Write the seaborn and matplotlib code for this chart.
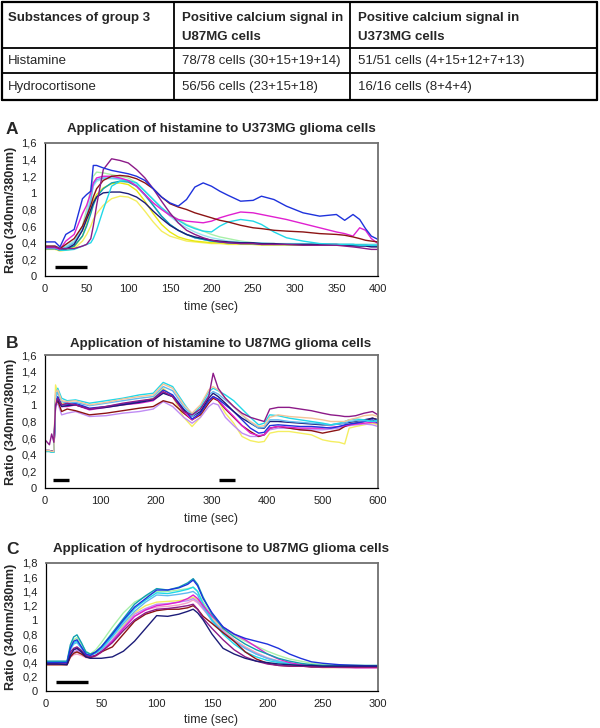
import matplotlib
matplotlib.use("Agg")
import matplotlib.pyplot as plt
import numpy as np
import pandas as pd
import seaborn as sns
from matplotlib.ticker import FuncFormatter

# Table content
TABLE_HEADER = [["Substances of group 3", ""],
                ["Positive calcium signal in", "U87MG cells"],
                ["Positive calcium signal in", "U373MG cells"]]
TABLE_ROWS = [["Histamine", "78/78 cells (30+15+19+14)", "51/51 cells (4+15+12+7+13)"],
              ["Hydrocortisone", "56/56 cells (23+15+18)", "16/16 cells (8+4+4)"]]

# Panel A: histamine on U373MG (time in sec, ratio 340/380)
A_TIME = [0, 12, 18, 25, 35, 45, 50, 55, 58, 62,
          70, 80, 90, 100, 110, 120, 130, 140, 150, 160,
          170, 180, 190, 200, 210, 220, 235, 250, 260, 275,
          290, 310, 330, 350, 360, 370, 378, 385, 392, 400]
A_YELLOW = [0.32, 0.32, 0.30, 0.31, 0.33, 0.42, 0.50, 0.60, 0.68, 0.75,
            0.85, 0.93, 0.96, 0.95, 0.90, 0.78, 0.65, 0.54, 0.48, 0.45,
            0.42, 0.41, 0.40, 0.39, 0.39, 0.38, 0.38, 0.38, 0.37, 0.37,
            0.37, 0.37, 0.37, 0.37, 0.37, 0.37, 0.37, 0.37, 0.37, 0.37]
A_LEMON = [0.33, 0.33, 0.31, 0.32, 0.35, 0.48, 0.62, 0.78, 0.90, 0.98,
           1.06, 1.11, 1.12, 1.10, 1.03, 0.90, 0.75, 0.62, 0.53, 0.47,
           0.44, 0.42, 0.41, 0.40, 0.40, 0.39, 0.39, 0.38, 0.38, 0.38,
           0.38, 0.37, 0.37, 0.37, 0.37, 0.37, 0.37, 0.37, 0.37, 0.37]
A_GREEN = [0.34, 0.34, 0.32, 0.35, 0.42, 0.60, 0.80, 1.05, 1.20, 1.25,
           1.24, 1.22, 1.20, 1.18, 1.12, 1.02, 0.92, 0.82, 0.74, 0.68,
           0.62, 0.58, 0.54, 0.50, 0.47, 0.45, 0.42, 0.40, 0.39, 0.39,
           0.38, 0.38, 0.38, 0.38, 0.38, 0.38, 0.38, 0.38, 0.38, 0.38]
A_AQUA = [0.36, 0.36, 0.34, 0.36, 0.42, 0.58, 0.75, 0.95, 1.08, 1.14,
          1.17, 1.17, 1.16, 1.14, 1.10, 1.02, 0.92, 0.82, 0.72, 0.64,
          0.58, 0.53, 0.49, 0.46, 0.44, 0.42, 0.41, 0.40, 0.40, 0.39,
          0.39, 0.39, 0.38, 0.38, 0.38, 0.38, 0.38, 0.38, 0.38, 0.38]
A_SKY = [0.35, 0.35, 0.33, 0.34, 0.40, 0.55, 0.70, 0.90, 1.10, 1.16,
         1.18, 1.18, 1.17, 1.14, 1.08, 0.97, 0.85, 0.72, 0.62, 0.55,
         0.50, 0.46, 0.44, 0.42, 0.41, 0.40, 0.40, 0.39, 0.39, 0.38,
         0.38, 0.38, 0.38, 0.38, 0.38, 0.38, 0.37, 0.37, 0.37, 0.37]
A_TEAL = [0.34, 0.34, 0.32, 0.33, 0.36, 0.48, 0.60, 0.75, 0.85, 0.95,
          1.05, 1.12, 1.14, 1.13, 1.08, 0.98, 0.85, 0.72, 0.62, 0.55,
          0.50, 0.46, 0.44, 0.42, 0.41, 0.40, 0.39, 0.39, 0.38, 0.38,
          0.38, 0.38, 0.38, 0.37, 0.37, 0.37, 0.37, 0.37, 0.36, 0.36]
A_NAVY = [0.33, 0.33, 0.31, 0.32, 0.38, 0.55, 0.68, 0.80, 0.88, 0.95,
          1.00, 1.01, 1.01, 0.99, 0.95, 0.88, 0.78, 0.69, 0.61, 0.55,
          0.50, 0.47, 0.45, 0.43, 0.42, 0.41, 0.40, 0.40, 0.39, 0.39,
          0.38, 0.38, 0.38, 0.38, 0.37, 0.36, 0.36, 0.36, 0.35, 0.35]
A_CYAN = [0.33, 0.33, 0.31, 0.31, 0.32, 0.36, 0.38, 0.40, 0.45, 0.55,
          0.80, 1.08, 1.14, 1.15, 1.12, 1.02, 0.92, 0.82, 0.74, 0.67,
          0.61, 0.57, 0.54, 0.53, 0.60, 0.65, 0.68, 0.66, 0.62, 0.53,
          0.46, 0.42, 0.39, 0.38, 0.38, 0.38, 0.37, 0.37, 0.37, 0.37]
A_MAGENTA = [0.34, 0.34, 0.32, 0.42, 0.50, 0.75, 0.85, 1.00, 1.12, 1.18,
             1.20, 1.20, 1.18, 1.15, 1.08, 0.98, 0.88, 0.80, 0.73, 0.68,
             0.66, 0.65, 0.64, 0.66, 0.70, 0.73, 0.77, 0.76, 0.74, 0.71,
             0.68, 0.63, 0.58, 0.53, 0.51, 0.48, 0.58, 0.55, 0.45, 0.39]
A_MAROON = [0.36, 0.36, 0.33, 0.38, 0.45, 0.60, 0.72, 0.85, 0.95, 1.05,
            1.15, 1.20, 1.21, 1.20, 1.17, 1.12, 1.05, 0.95, 0.87, 0.83,
            0.80, 0.76, 0.73, 0.70, 0.67, 0.65, 0.61, 0.58, 0.57, 0.55,
            0.54, 0.53, 0.51, 0.50, 0.49, 0.47, 0.45, 0.43, 0.42, 0.41]
A_PURPLE = [0.35, 0.35, 0.33, 0.33, 0.33, 0.36, 0.38, 0.45, 0.60, 0.85,
            1.28, 1.41, 1.39, 1.36, 1.28, 1.18, 1.05, 0.90, 0.76, 0.64,
            0.55, 0.50, 0.46, 0.43, 0.41, 0.40, 0.39, 0.39, 0.38, 0.38,
            0.38, 0.37, 0.37, 0.37, 0.36, 0.35, 0.34, 0.33, 0.32, 0.32]
A_BLUE = [0.41, 0.41, 0.35, 0.50, 0.56, 0.93, 0.98, 1.02, 1.33, 1.33,
          1.30, 1.27, 1.25, 1.23, 1.20, 1.15, 1.05, 0.95, 0.88, 0.84,
          0.92, 1.07, 1.12, 1.08, 1.02, 0.97, 0.90, 0.91, 0.96, 0.92,
          0.84, 0.76, 0.72, 0.74, 0.67, 0.74, 0.68, 0.57, 0.48, 0.44]
A_BARS = [(12, 50)]

# Panel B: histamine on U87MG
B_TIME = [0, 8, 12, 16, 19, 23, 30, 40, 55, 80,
          110, 140, 170, 195, 213, 230, 250, 265, 280, 295,
          303, 312, 325, 340, 355, 370, 385, 395, 405, 420,
          440, 460, 480, 500, 515, 530, 540, 548, 560, 575,
          590, 600]
B_YELLOW = [0.44, 0.44, 0.43, 0.43, 1.24, 1.15, 1.02, 1.00, 1.00, 0.95,
            0.98, 1.00, 1.04, 1.08, 1.20, 1.10, 0.85, 0.74, 0.85, 1.05,
            1.10, 1.05, 0.90, 0.78, 0.62, 0.57, 0.55, 0.56, 0.66, 0.68,
            0.68, 0.66, 0.64, 0.58, 0.56, 0.55, 0.53, 0.72, 0.74, 0.76,
            0.78, 0.76]
B_LAVENDER = [0.45, 0.45, 0.44, 0.44, 0.98, 1.02, 0.88, 0.90, 0.92, 0.86,
              0.87, 0.90, 0.92, 0.95, 1.04, 0.98, 0.85, 0.78, 0.85, 0.98,
              1.02, 1.00, 0.85, 0.75, 0.66, 0.62, 0.62, 0.64, 0.70, 0.72,
              0.72, 0.70, 0.70, 0.70, 0.71, 0.72, 0.74, 0.75, 0.76, 0.77,
              0.76, 0.74]
B_MAROON = [0.45, 0.45, 0.44, 0.44, 1.00, 1.05, 0.92, 0.95, 0.93, 0.88,
            0.90, 0.93, 0.96, 0.98, 1.05, 1.02, 0.90, 0.82, 0.88, 1.02,
            1.08, 1.05, 0.95, 0.85, 0.75, 0.68, 0.62, 0.64, 0.72, 0.74,
            0.72, 0.70, 0.69, 0.66, 0.68, 0.70, 0.74, 0.76, 0.78, 0.80,
            0.84, 0.82]
B_MAGENTA = [0.45, 0.45, 0.44, 0.44, 1.05, 1.08, 0.98, 0.98, 1.00, 0.94,
             0.97, 1.00, 1.02, 1.05, 1.15, 1.10, 0.92, 0.82, 0.90, 1.05,
             1.10, 1.06, 0.96, 0.86, 0.75, 0.66, 0.63, 0.64, 0.72, 0.74,
             0.73, 0.72, 0.72, 0.72, 0.73, 0.74, 0.75, 0.76, 0.77, 0.78,
             0.79, 0.78]
B_BLUE = [0.45, 0.45, 0.44, 0.44, 1.05, 1.10, 1.00, 1.00, 1.02, 0.96,
          0.98, 1.01, 1.04, 1.07, 1.18, 1.12, 0.95, 0.83, 0.90, 1.05,
          1.10, 1.07, 1.00, 0.92, 0.82, 0.72, 0.66, 0.67, 0.75, 0.76,
          0.75, 0.74, 0.74, 0.73, 0.72, 0.74, 0.76, 0.77, 0.78, 0.80,
          0.82, 0.78]
B_NAVY = [0.45, 0.45, 0.44, 0.44, 1.02, 1.06, 0.98, 0.99, 1.00, 0.95,
          0.97, 1.00, 1.03, 1.06, 1.14, 1.10, 0.94, 0.86, 0.92, 1.08,
          1.14, 1.10, 1.02, 0.92, 0.84, 0.78, 0.72, 0.72, 0.80, 0.80,
          0.79, 0.78, 0.77, 0.76, 0.76, 0.77, 0.78, 0.79, 0.80, 0.82,
          0.84, 0.82]
B_SKY = [0.44, 0.44, 0.43, 0.43, 1.08, 1.15, 1.04, 1.02, 1.03, 0.99,
         1.02, 1.05, 1.08, 1.10, 1.22, 1.17, 0.98, 0.86, 0.95, 1.12,
         1.16, 1.13, 1.06, 0.98, 0.88, 0.79, 0.72, 0.73, 0.82, 0.82,
         0.80, 0.79, 0.78, 0.77, 0.76, 0.77, 0.78, 0.80, 0.81, 0.81,
         0.80, 0.80]
B_CYAN = [0.44, 0.44, 0.43, 0.43, 1.12, 1.20, 1.08, 1.05, 1.06, 1.02,
          1.05, 1.08, 1.12, 1.14, 1.27, 1.22, 1.02, 0.88, 0.98, 1.16,
          1.20, 1.17, 1.12, 1.05, 0.95, 0.85, 0.76, 0.78, 0.88, 0.87,
          0.84, 0.82, 0.80, 0.78, 0.76, 0.78, 0.80, 0.82, 0.83, 0.82,
          0.80, 0.82]
B_PEACH = [0.45, 0.45, 0.44, 0.44, 1.15, 1.18, 1.05, 1.04, 1.05, 1.00,
           1.03, 1.07, 1.10, 1.12, 1.25, 1.20, 1.00, 0.90, 1.00, 1.18,
           1.22, 1.18, 1.08, 0.98, 0.88, 0.80, 0.74, 0.75, 0.85, 0.88,
           0.86, 0.85, 0.84, 0.82, 0.80, 0.80, 0.80, 0.82, 0.84, 0.87,
           0.88, 0.86]
B_PURPLE = [0.58, 0.52, 0.65, 0.55, 1.00, 1.08, 1.00, 1.02, 1.00, 0.95,
            0.98, 1.02, 1.05, 1.07, 1.16, 1.10, 0.92, 0.88, 0.95, 1.10,
            1.38, 1.20, 1.08, 0.98, 0.90, 0.85, 0.82, 0.80, 0.95, 0.97,
            0.97, 0.95, 0.93, 0.90, 0.88, 0.87, 0.86, 0.86, 0.87, 0.90,
            0.92, 0.88]
B_BARS = [(14, 43), (314, 342)]

# Panel C: hydrocortisone on U87MG
C_TIME = [0, 10, 19, 22, 25, 28, 32, 36, 40, 45,
          50, 60, 70, 80, 90, 100, 110, 120, 128, 133,
          137, 142, 150, 160, 170, 180, 190, 200, 210, 220,
          230, 240, 250, 265, 280, 300]
C_YELLOW = [0.37, 0.37, 0.37, 0.48, 0.53, 0.55, 0.52, 0.48, 0.46, 0.50,
            0.56, 0.72, 0.92, 1.10, 1.20, 1.25, 1.26, 1.27, 1.29, 1.32,
            1.28, 1.18, 1.02, 0.86, 0.72, 0.62, 0.53, 0.46, 0.42, 0.38,
            0.36, 0.34, 0.33, 0.33, 0.33, 0.33]
C_PINK = [0.37, 0.37, 0.37, 0.47, 0.51, 0.52, 0.50, 0.47, 0.46, 0.49,
          0.54, 0.70, 0.88, 1.05, 1.14, 1.18, 1.19, 1.21, 1.24, 1.28,
          1.24, 1.15, 1.00, 0.85, 0.72, 0.62, 0.54, 0.47, 0.42, 0.38,
          0.36, 0.34, 0.33, 0.33, 0.32, 0.32]
C_LAVENDER = [0.38, 0.38, 0.38, 0.50, 0.55, 0.57, 0.53, 0.49, 0.47, 0.50,
              0.56, 0.72, 0.90, 1.08, 1.16, 1.22, 1.23, 1.25, 1.27, 1.30,
              1.26, 1.16, 1.00, 0.84, 0.70, 0.60, 0.52, 0.46, 0.41, 0.38,
              0.36, 0.34, 0.34, 0.33, 0.33, 0.33]
C_GREEN = [0.41, 0.41, 0.41, 0.62, 0.72, 0.75, 0.66, 0.56, 0.52, 0.58,
           0.68, 0.90, 1.10, 1.25, 1.33, 1.40, 1.40, 1.42, 1.44, 1.46,
           1.40, 1.25, 1.06, 0.90, 0.78, 0.70, 0.63, 0.56, 0.50, 0.45,
           0.42, 0.39, 0.37, 0.36, 0.36, 0.35]
C_SKY = [0.40, 0.40, 0.40, 0.58, 0.66, 0.68, 0.60, 0.52, 0.50, 0.53,
         0.58, 0.76, 0.95, 1.12, 1.25, 1.35, 1.34, 1.36, 1.38, 1.40,
         1.35, 1.18, 0.98, 0.82, 0.70, 0.60, 0.52, 0.46, 0.42, 0.39,
         0.37, 0.36, 0.35, 0.35, 0.35, 0.34]
C_CYAN = [0.41, 0.41, 0.41, 0.60, 0.68, 0.70, 0.62, 0.52, 0.50, 0.54,
          0.60, 0.78, 0.98, 1.16, 1.28, 1.38, 1.37, 1.40, 1.43, 1.46,
          1.40, 1.22, 1.00, 0.80, 0.66, 0.55, 0.48, 0.43, 0.40, 0.38,
          0.36, 0.35, 0.35, 0.35, 0.34, 0.34]
C_MAGENTA = [0.38, 0.38, 0.38, 0.52, 0.58, 0.60, 0.55, 0.50, 0.48, 0.50,
             0.55, 0.70, 0.88, 1.05, 1.14, 1.20, 1.22, 1.25, 1.30, 1.35,
             1.30, 1.20, 1.05, 0.90, 0.80, 0.72, 0.62, 0.52, 0.45, 0.40,
             0.37, 0.35, 0.34, 0.34, 0.33, 0.33]
C_MAROON = [0.37, 0.37, 0.37, 0.48, 0.53, 0.55, 0.52, 0.48, 0.47, 0.50,
            0.55, 0.62, 0.80, 0.98, 1.08, 1.13, 1.15, 1.15, 1.17, 1.20,
            1.15, 1.05, 0.95, 0.82, 0.70, 0.55, 0.45, 0.39, 0.36, 0.35,
            0.35, 0.34, 0.34, 0.34, 0.34, 0.34]
C_PURPLE = [0.38, 0.38, 0.38, 0.55, 0.60, 0.62, 0.57, 0.50, 0.48, 0.50,
            0.55, 0.68, 0.85, 1.00, 1.10, 1.15, 1.16, 1.18, 1.20, 1.22,
            1.15, 1.02, 0.88, 0.72, 0.58, 0.48, 0.42, 0.38, 0.36, 0.35,
            0.35, 0.34, 0.34, 0.34, 0.34, 0.34]
C_TEAL = [0.42, 0.42, 0.42, 0.65, 0.76, 0.79, 0.68, 0.55, 0.52, 0.55,
          0.62, 0.82, 1.02, 1.22, 1.34, 1.44, 1.42, 1.46, 1.52, 1.58,
          1.50, 1.32, 1.08, 0.88, 0.76, 0.66, 0.58, 0.52, 0.46, 0.42,
          0.39, 0.37, 0.36, 0.36, 0.36, 0.36]
C_BLUE = [0.40, 0.40, 0.40, 0.60, 0.70, 0.72, 0.62, 0.52, 0.50, 0.55,
          0.62, 0.80, 1.00, 1.18, 1.30, 1.42, 1.42, 1.45, 1.50, 1.56,
          1.48, 1.30, 1.10, 0.90, 0.80, 0.74, 0.70, 0.66, 0.60, 0.52,
          0.46, 0.41, 0.39, 0.37, 0.36, 0.35]
C_NAVY = [0.38, 0.38, 0.37, 0.50, 0.58, 0.60, 0.55, 0.48, 0.46, 0.46,
          0.46, 0.48, 0.56, 0.70, 0.88, 1.06, 1.05, 1.08, 1.12, 1.15,
          1.10, 1.00, 0.80, 0.60, 0.52, 0.46, 0.42, 0.40, 0.38, 0.37,
          0.36, 0.36, 0.35, 0.35, 0.35, 0.35]
C_BARS = [(9, 38)]

COLORS = {"yellow": "#f4ee60", "lemon": "#e8e810", "green": "#a8f0a8",
          "aqua": "#98e4f0", "sky": "#60b8f0", "teal": "#10a0b0",
          "navy": "#1c1c78", "cyan": "#20d8e8", "magenta": "#e020d0",
          "maroon": "#8c1414", "purple": "#8c1a88", "blue": "#1e32dc",
          "lavender": "#c08cf4", "peach": "#f4c498", "pink": "#f4a0c8"}

FIG_W, FIG_H = 600, 728


def px(x, y):
    """Pixel position (from top-left) to figure fraction."""
    return x / FIG_W, 1 - y / FIG_H


def comma_fmt(v, pos):
    s = f"{v:.1f}"
    if s.endswith(".0"):
        s = s[:-2]
    return s.replace(".", ",")


def draw_panel(box, time, traces, xmax, xstep, ymax, bars, bar_y):
    left, top, right, bottom = box
    x0, y0 = px(left, bottom)
    x1, y1 = px(right, top)
    ax = fig.add_axes([x0, y0, x1 - x0, y1 - y0])
    frames = [pd.DataFrame({"time": time, "ratio": vals, "cell": name})
              for name, vals in traces]
    df = pd.concat(frames, ignore_index=True)
    sns.lineplot(data=df, x="time", y="ratio", hue="cell", palette=COLORS,
                 estimator=None, sort=False, legend=False, lw=1.0, ax=ax)
    for start, end in bars:
        ax.plot([start, end], [bar_y, bar_y], color="black", lw=2.4,
                solid_capstyle="butt")
    ax.set_xlim(0, xmax)
    ax.set_ylim(0, ymax)
    ax.set_xticks(np.arange(0, xmax + 1, xstep))
    ax.set_yticks(np.arange(0, ymax + 0.01, 0.2))
    ax.yaxis.set_major_formatter(FuncFormatter(comma_fmt))
    ax.set_xlabel("")
    ax.set_ylabel("")
    ax.tick_params(labelsize=8, length=3, width=0.8, pad=3, direction="out",
                   colors="black", labelcolor="#222222")
    for side in ["left", "bottom"]:
        ax.spines[side].set_color("black")
        ax.spines[side].set_linewidth(0.9)
    for side in ["top", "right"]:
        ax.spines[side].set_visible(True)
        ax.spines[side].set_color("#707070")
        ax.spines[side].set_linewidth(1.3)
    return ax


sns.set_theme(style="white")
plt.rcParams["font.family"] = ["Liberation Sans", "DejaVu Sans"]

fig = plt.figure(figsize=(6, 7.28), dpi=100)

# ---- table ----
tab = fig.add_axes([0, 0, 1, 1])
tab.set_xlim(0, FIG_W)
tab.set_ylim(FIG_H, 0)
tab.axis("off")
tab_left, tab_right, tab_top, tab_bottom = 2, 597, 2, 100
row_lines = [48, 73]
col_lines = [174, 350]
for y in [tab_top, tab_bottom]:
    tab.plot([tab_left, tab_right], [y, y], color="black", lw=1.6)
for x in [tab_left, tab_right]:
    tab.plot([x, x], [tab_top, tab_bottom], color="black", lw=1.6)
for y in row_lines:
    tab.plot([tab_left, tab_right], [y, y], color="black", lw=1.3)
for x in col_lines:
    tab.plot([x, x], [tab_top, tab_bottom], color="black", lw=1.3)
col_x = [8, 182, 358]
for cx, lines in zip(col_x, TABLE_HEADER):
    for ly, txt in zip([18, 37], lines):
        tab.text(cx, ly, txt, fontsize=9.5, fontweight="bold", va="center", ha="left")
for ry, row in zip([61, 87], TABLE_ROWS):
    for cx, txt in zip(col_x, row):
        tab.text(cx, ry, txt, fontsize=9.5, va="center", ha="left")

# ---- panels ----
panel_a = [("yellow", A_YELLOW), ("lemon", A_LEMON), ("green", A_GREEN),
           ("aqua", A_AQUA), ("sky", A_SKY), ("teal", A_TEAL),
           ("navy", A_NAVY), ("cyan", A_CYAN), ("magenta", A_MAGENTA),
           ("maroon", A_MAROON), ("purple", A_PURPLE), ("blue", A_BLUE)]
panel_b = [("yellow", B_YELLOW), ("lavender", B_LAVENDER), ("maroon", B_MAROON),
           ("magenta", B_MAGENTA), ("blue", B_BLUE), ("navy", B_NAVY),
           ("sky", B_SKY), ("cyan", B_CYAN), ("peach", B_PEACH),
           ("purple", B_PURPLE)]
panel_c = [("yellow", C_YELLOW), ("pink", C_PINK), ("lavender", C_LAVENDER),
           ("green", C_GREEN), ("sky", C_SKY), ("cyan", C_CYAN),
           ("magenta", C_MAGENTA), ("maroon", C_MAROON), ("purple", C_PURPLE),
           ("teal", C_TEAL), ("blue", C_BLUE), ("navy", C_NAVY)]

draw_panel((45, 143, 378, 276), A_TIME, panel_a, 400, 50, 1.6, A_BARS, 0.11)
draw_panel((45, 355, 378, 488), B_TIME, panel_b, 600, 100, 1.6, B_BARS, 0.10)
draw_panel((46, 563, 378, 691), C_TIME, panel_c, 300, 50, 1.8, C_BARS, 0.12)

titles = [("A", "Application of histamine to U373MG glioma cells", 129, 209.5, 307),
          ("B", "Application of histamine to U87MG glioma cells", 344, 421.5, 519),
          ("C", "Application of hydrocortisone to U87MG glioma cells", 549, 627, 720)]
for letter, title, ty, ymid, xl_y in titles:
    fig.text(*px(6, ty), letter, fontsize=12.5, fontweight="bold", va="center", ha="left")
    fig.text(*px(221, ty), title, fontsize=9.6, fontweight="bold", va="center", ha="center")
    fig.text(*px(11, ymid), "Ratio (340nm/380nm)", fontsize=9, fontweight="bold",
             rotation=90, va="center", ha="center")
    fig.text(*px(211, xl_y), "time (sec)", fontsize=8.8, va="center", ha="center")

fig.savefig("out.png", dpi=100, facecolor="white")
